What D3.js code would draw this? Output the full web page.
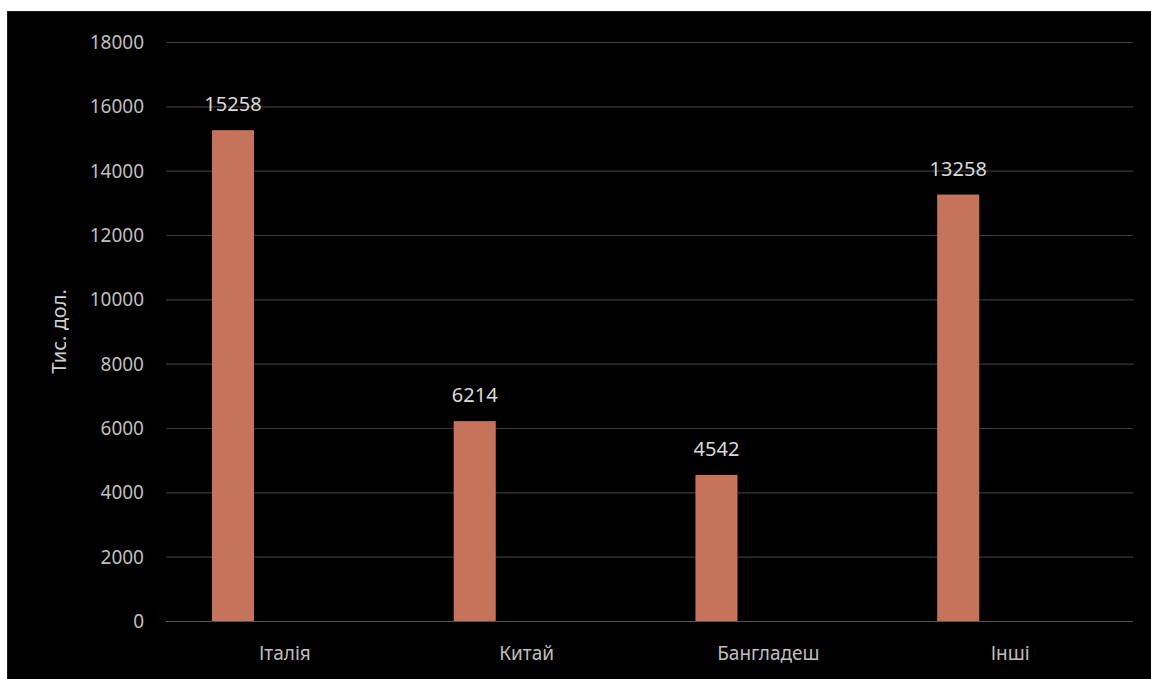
<!DOCTYPE html>
<html>
<head>
<meta charset="utf-8">
<script src="https://cdn.jsdelivr.net/npm/d3@7"></script>
<style>
  html, body { margin: 0; padding: 0; background: #fff; }
  svg { display: block; }
</style>
</head>
<body>
<div id="chart"></div>
<script>
var categories = ["Італія", "Китай", "Бангладеш", "Інші"];
var values = [15258, 6214, 4542, 13258];
var yTicks = [0, 2000, 4000, 6000, 8000, 10000, 12000, 14000, 16000, 18000];
var yTitle = "Тис. дол.";

var width = 1151,
    height = 679,
    plotLeft = 166, plotRight = 1133,
    plotTop = 42, plotBottom = 621;

var svg = d3.select("#chart")
   .append("svg")
   .attr("width", width)
   .attr("height", height)
   .style("font-family", "'Noto Sans', 'Open Sans', sans-serif");

// black panel with a thin grey edge
svg.append("rect")
   .attr("x", 7).attr("y", 11)
   .attr("width", width - 7).attr("height", height - 11)
   .attr("fill", "#1e1e1e");
svg.append("rect")
   .attr("x", 8).attr("y", 12)
   .attr("width", width - 8).attr("height", height - 12)
   .attr("fill", "#000");

var x = d3.scaleBand()
   .domain(categories)
   .range([plotLeft, plotRight]);

var y = d3.scaleLinear()
   .domain([0, 18000])
   .range([plotBottom, plotTop]);

// gridlines
svg.append("g")
   .selectAll("line")
   .data(yTicks)
   .enter()
   .append("line")
   .attr("x1", plotLeft).attr("x2", plotRight)
   .attr("y1", function(d) { return y(d) + 0.5; })
   .attr("y2", function(d) { return y(d) + 0.5; })
   .attr("stroke", function(d) { return d === 0 ? "#555" : "#3a3a3a"; })
   .attr("stroke-width", 1.2);

// y axis labels
var yAxis = svg.append("g")
   .attr("transform", "translate(" + (plotLeft - 22) + ",0)")
   .call(d3.axisLeft(y).tickValues(yTicks).tickSize(0).tickPadding(0).tickFormat(d3.format("d")));
yAxis.select(".domain").remove();
yAxis.selectAll("text")
   .attr("fill", "#bfbfbf")
   .style("font-size", "19px")
   .style("font-family", "'Noto Sans', 'Open Sans', sans-serif")
   .attr("dy", "0.35em");

// axis title
svg.append("text")
   .attr("transform", "translate(66," + ((plotTop + plotBottom) / 2) + ") rotate(-90)")
   .attr("text-anchor", "middle")
   .attr("fill", "#d0d0d0")
   .style("font-size", "20px")
   .text(yTitle);

// bars (first series sits in the left part of each category)
var barOffset = 0.19, barWidth = 0.174;

var bar = svg.append("g")
   .selectAll("g")
   .data(values)
   .enter()
   .append("g")
   .attr("transform", function(d, i) {
      return "translate(" + (x(categories[i]) + x.bandwidth() * barOffset) + ",0)";
   });

bar.append("rect")
   .attr("y", function(d) { return y(d); })
   .attr("width", x.bandwidth() * barWidth)
   .attr("height", function(d) { return y(0) - y(d); })
   .attr("fill", "#c6735c");

bar.append("text")
   .attr("x", x.bandwidth() * barWidth / 2)
   .attr("y", function(d) { return y(d) - 19; })
   .attr("text-anchor", "middle")
   .attr("fill", "#d9d9d9")
   .style("font-size", "20px")
   .text(function(d) { return d; });

// category labels
svg.append("g")
   .selectAll("text")
   .data(categories)
   .enter()
   .append("text")
   .attr("x", function(d) { return x(d) + x.bandwidth() / 2 - 2; })
   .attr("y", 660)
   .attr("text-anchor", "middle")
   .attr("fill", "#bfbfbf")
   .style("font-size", "19px")
   .text(function(d) { return d; });
</script>
</body>
</html>
